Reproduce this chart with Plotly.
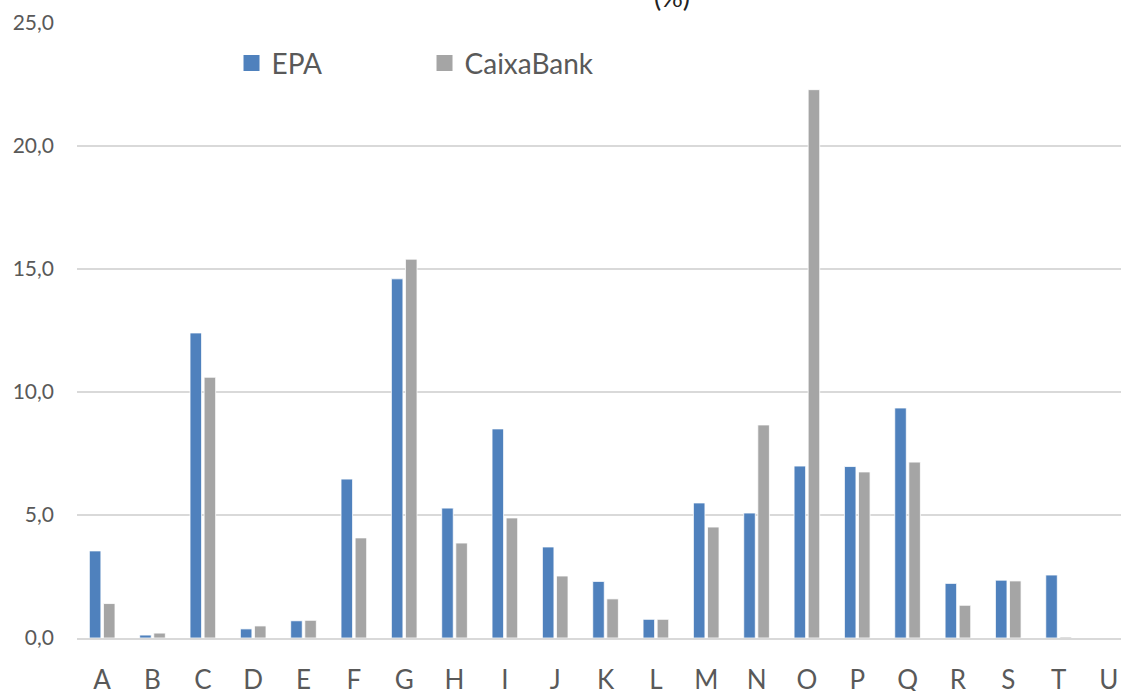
import plotly.graph_objects as go

categories = ["A","B","C","D","E","F","G","H","I","J","K","L","M","N","O","P","Q","R","S","T","U"]
epa = [3.54, 0.12, 12.4, 0.37, 0.70, 6.46, 14.6, 5.28, 8.5, 3.7, 2.30, 0.76, 5.49, 5.08, 6.99, 6.97, 9.35, 2.22, 2.35, 2.56, 0.0]
caixabank = [1.40, 0.20, 10.6, 0.49, 0.72, 4.07, 15.4, 3.86, 4.88, 2.52, 1.59, 0.76, 4.51, 8.66, 22.29, 6.75, 7.15, 1.33, 2.32, 0.04, 0.0]
series_names = ["EPA", "CaixaBank"]
series_colors = ["#4F81BD", "#A5A5A5"]
yticks = [0, 5, 10, 15, 20, 25]

FONT = "Lato, 'Open Sans', sans-serif"
TXT = "#595959"

fig = go.Figure()
for name, vals, col in zip(series_names, [epa, caixabank], series_colors):
    fig.add_trace(go.Bar(x=categories, y=vals, name=name, showlegend=False,
                         marker=dict(color=col, line=dict(color="white", width=0.8))))
# legend entries with larger square symbols
for name, col in zip(series_names, series_colors):
    fig.add_trace(go.Scatter(x=[None], y=[None], mode="markers", name=name,
                             marker=dict(symbol="square", size=18, color=col)))

fig.update_layout(
    width=1121, height=691,
    margin=dict(l=77, r=0, t=23, b=53, autoexpand=False),
    paper_bgcolor="white", plot_bgcolor="white",
    barmode="group", bargap=0.44, bargroupgap=0.18,
    separators=",.",
    font=dict(family=FONT, color=TXT),
    showlegend=True,
    legend=dict(orientation="h", x=0.148, y=0.975, xanchor="left", yanchor="top",
                entrywidth=148, entrywidthmode="pixels", itemwidth=30, itemsizing="trace",
                font=dict(size=28, color=TXT), bgcolor="rgba(0,0,0,0)"),
    xaxis=dict(range=[-0.5, 20.24], showgrid=False, showline=True, linecolor="#D9D9D9",
               linewidth=1.5, ticks="", tickfont=dict(size=26, color=TXT),
               ticklabelstandoff=18, zeroline=False, automargin=False),
    yaxis=dict(range=[0, 25], tickvals=yticks, tickformat=".1f", showgrid=True,
               gridcolor="#D9D9D9", gridwidth=1.5, zeroline=False, showline=False,
               tickfont=dict(size=21, color=TXT), ticklabelstandoff=22, automargin=False),
    annotations=[dict(text="(%)", x=0.57, y=1.0, xref="paper", yref="paper",
                      xanchor="center", yanchor="bottom", yshift=8, showarrow=False,
                      font=dict(size=27, color="#222222", family=FONT))],
)

fig.write_html("out.html", config={"displayModeBar": False},
               post_script="document.body.style.margin='0';document.body.style.overflow='hidden';")
